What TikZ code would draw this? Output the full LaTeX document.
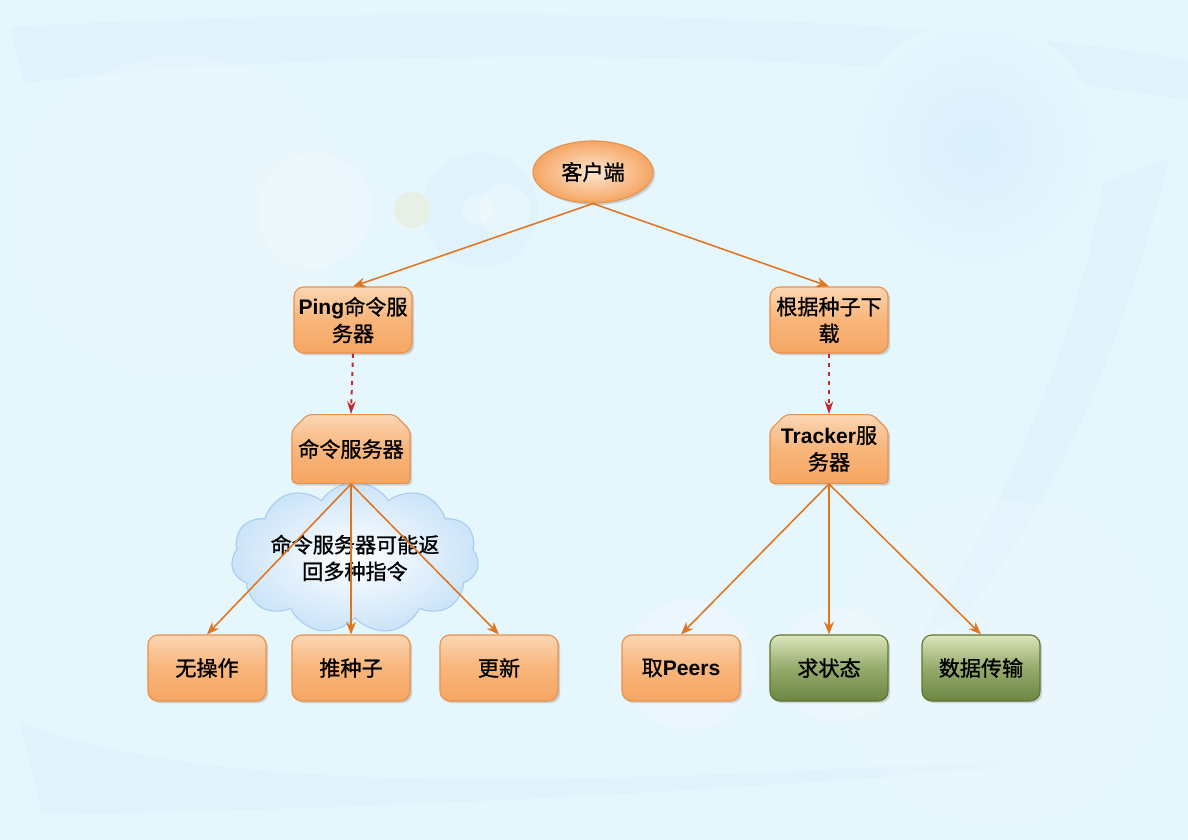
\documentclass[tikz,border=0pt]{standalone}
\usepackage{fontspec}
\setmainfont{Noto Sans CJK SC}[FakeBold=1]
\newfontfamily\latfont{Liberation Sans}
\usetikzlibrary{shapes,arrows,arrows.meta,shadows}
\newcommand{\en}[1]{{\latfont\bfseries #1}}
\definecolor{bgblue}{HTML}{E6F6FD}
\definecolor{bandblue}{HTML}{E0F2FC}
\definecolor{glowblue}{HTML}{DAEEFC}
\definecolor{edgeorange}{HTML}{E0741F}
\definecolor{dotred}{HTML}{C8262A}
\definecolor{boxline}{HTML}{E8924C}
\definecolor{boxtop}{HTML}{FAD6B4}
\definecolor{boxmid}{HTML}{F8B57A}
\definecolor{boxbot}{HTML}{F6A663}
\definecolor{greenline}{HTML}{5C7631}
\definecolor{greentop}{HTML}{DCE5BC}
\definecolor{greenmid}{HTML}{95AA6C}
\definecolor{greenbot}{HTML}{6C8642}
\definecolor{cloudline}{HTML}{A9CDF0}
\definecolor{cloudfill}{HTML}{CBE4F9}

\begin{document}
\begin{tikzpicture}[x=0.025cm, y=-0.025cm]
      \tikzstyle{box} = [rectangle, rounded corners=7pt, draw=boxline, line width=0.8pt,
        top color=boxtop, bottom color=boxbot, middle color=boxmid,
        minimum width=2.95cm, minimum height=1.65cm, align=center, inner sep=2pt,
        font=\fontsize{15}{19}\selectfont,
        drop shadow={shadow xshift=1.5pt, shadow yshift=-1.5pt, opacity=0.3}]
      \tikzstyle{capbox} = [box, chamfered rectangle,
        chamfered rectangle corners={north west, north east},
        chamfered rectangle xsep=4pt, chamfered rectangle ysep=7pt,
        inner sep=0pt, rounded corners=3pt, minimum height=1.72cm]
      \tikzstyle{greenbox} = [box, draw=greenline, top color=greentop,
        bottom color=greenbot, middle color=greenmid]
      \tikzstyle{link} = [draw=edgeorange, line width=1.1pt, -{Stealth[length=9pt,width=7pt]}]
      \tikzstyle{dots} = [draw=dotred, line width=1.4pt, dash pattern=on 3pt off 3.5pt,
        -{Stealth[length=9pt,width=6pt]}]
      % background
      \fill[bgblue] (0,0) rectangle (1188,840);
      \fill[bandblue] (10,27) .. controls (400,5) and (900,10) .. (1188,60)
        -- (1188,100) .. controls (800,40) and (300,50) .. (25,83) -- cycle;
      \fill[bandblue] (1170,157) .. controls (1120,350) and (1060,500) .. (960,620)
        -- (920,635) .. controls (1010,500) and (1080,330) .. (1103,183) -- cycle;
      \fill[bandblue] (20,722) .. controls (200,790) and (500,790) .. (1000,760)
        -- (1000,768) .. controls (600,800) and (300,810) .. (42,815) -- cycle;
      \fill[white, opacity=0.15] (180,215) circle (160);
      \fill[white, opacity=0.2] (315,210) circle (57);
      \fill[bandblue] (480,210) circle (58);
      \fill[white, opacity=0.25] (505,210) circle (26);
      \fill[white, opacity=0.25] (477,210) circle (15);
      \fill[yellow!8!bgblue] (412,210) circle (18);
      \shade[inner color=glowblue, outer color=bgblue] (975,145) circle (125);
      \fill[white, opacity=0.15] (1000,660) circle (160);
      \fill[white, opacity=0.2] (690,665) circle (65);
      \fill[white, opacity=0.2] (835,665) circle (57);
      % cloud note
      \node (note) [cloud, cloud puffs=11, cloud puff arc=115, aspect=2, inner sep=0pt,
        draw=cloudline, line width=0.8pt, inner color=white, outer color=cloudfill,
        align=center, font=\fontsize{15}{19}\selectfont] at (355,558)
        {命令服务器可能返\\回多种指令};
      % nodes
      \node (client) [ellipse, draw=boxline, line width=0.8pt, inner color=boxtop!60!white,
        outer color=boxbot, minimum width=3cm, minimum height=1.55cm,
        font=\fontsize{15}{19}\selectfont,
        drop shadow={shadow xshift=1.5pt, shadow yshift=-1.5pt, opacity=0.3}] at (593,172) {客户端};
      \node (ping) [box] at (353,320) {\en{Ping}命令服\\务器};
      \node (seed) [box] at (829,320) {根据种子下\\载};
      \node (cmd) [capbox] at (351,449) {命令服务器};
      \node (tracker) [capbox] at (829,449) {\en{Tracker}服\\务器};
      \node (noop) [box] at (207,668) {无操作};
      \node (push) [box] at (351,668) {推种子};
      \node (update) [box] at (499,668) {更新};
      \node (peers) [box] at (681,668) {取\en{Peers}};
      \node (state) [greenbox] at (829,668) {求状态};
      \node (transfer) [greenbox] at (981,668) {数据传输};
      % connectors
      \draw [link] (client.south) -- (ping.north);
      \draw [link] (client.south) -- (seed.north);
      \draw [dots] (ping.south) -- (cmd.north);
      \draw [dots] (seed.south) -- (tracker.north);
      \draw [link] (cmd.south) -- (noop.north);
      \draw [link] (cmd.south) -- (push.north);
      \draw [link] (cmd.south) -- (update.north);
      \draw [link] (tracker.south) -- (peers.north);
      \draw [link] (tracker.south) -- (state.north);
      \draw [link] (tracker.south) -- (transfer.north);
\end{tikzpicture}
\end{document}
